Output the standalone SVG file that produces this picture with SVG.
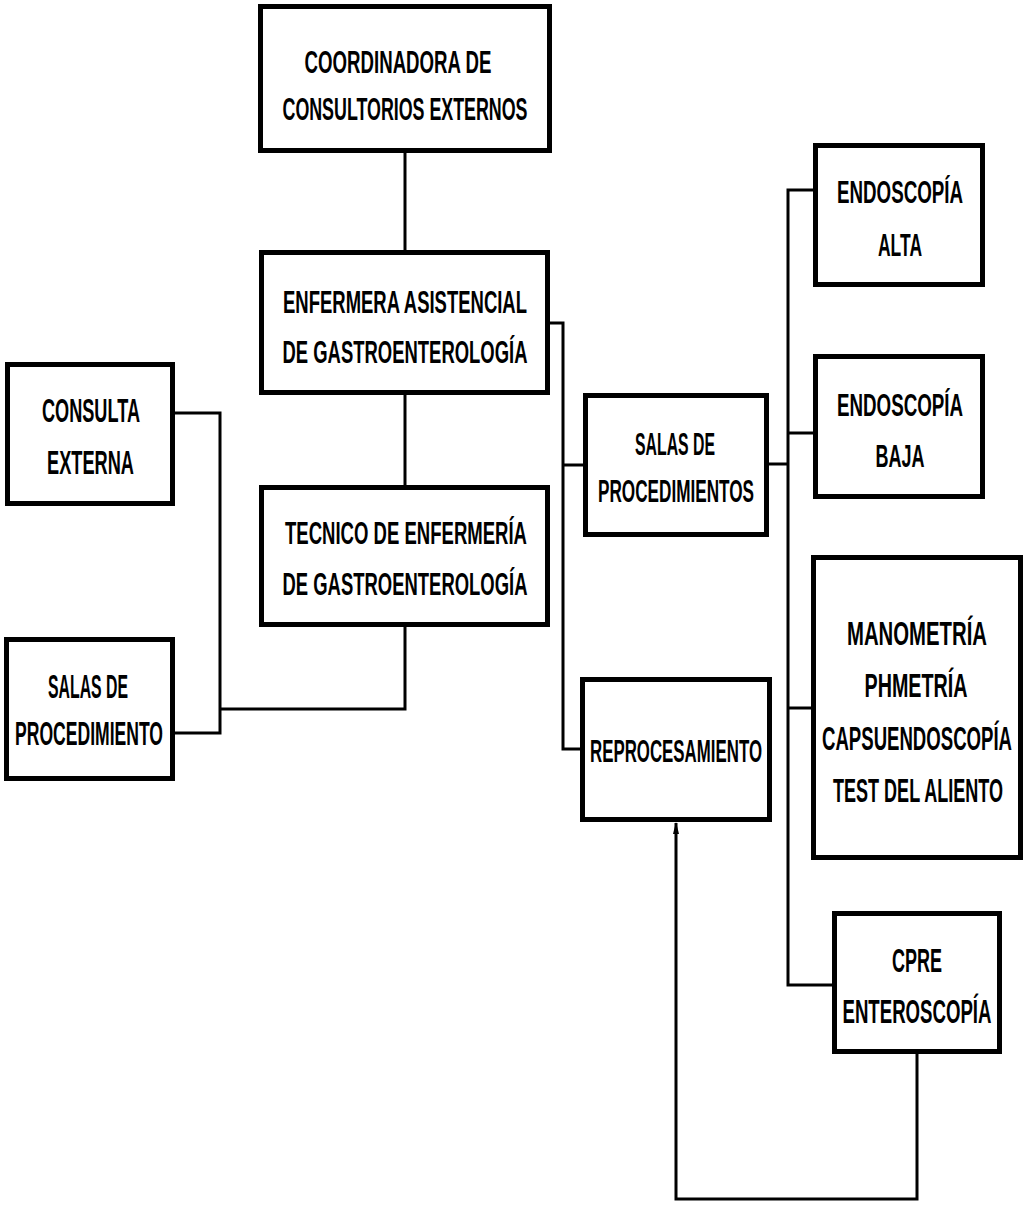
<svg xmlns="http://www.w3.org/2000/svg" width="1029" height="1208" viewBox="0 0 1029 1208">
<defs>
<style>
.box{fill:#fff;stroke:#000;stroke-width:5}
.t{font-family:"Liberation Sans",Arial,sans-serif;font-weight:bold;font-size:32px;fill:#000;text-anchor:middle}
.lg{font-size:34px}
.c{fill:none;stroke:#000;stroke-width:3}
</style>
<marker id="arr" markerUnits="userSpaceOnUse" markerWidth="12" markerHeight="8" refX="11" refY="4" orient="auto">
<path d="M0,1 L12,4 L0,7 Z" fill="#000"/>
</marker>
</defs>
<rect width="1029" height="1208" fill="#fff"/>
<g id="connectors">
<path class="c" d="M405,153 V250"/>
<path class="c" d="M405,395 V485"/>
<path class="c" d="M550,323 H563 V749 H580"/>
<path class="c" d="M563,465 H583"/>
<path class="c" d="M405,627 V709 H220"/>
<path class="c" d="M175,413 H220 V733 H175"/>
<path class="c" d="M769,464 H788"/>
<path class="c" d="M813,190 H788 V985 H832"/>
<path class="c" d="M788,433 H813"/>
<path class="c" d="M788,708 H811"/>
<path class="c" d="M917,1054 V1199 H676 V823" marker-end="url(#arr)"/>
</g>
<g id="coordinadora">
<rect class="box" x="260.5" y="6.5" width="289" height="144"/>
<text class="t" x="398" y="73" textLength="187" lengthAdjust="spacingAndGlyphs">COORDINADORA DE</text>
<text class="t" x="405" y="120" textLength="245" lengthAdjust="spacingAndGlyphs">CONSULTORIOS EXTERNOS</text>
</g>
<g id="enfermera">
<rect class="box" x="261.5" y="252.5" width="286" height="140"/>
<text class="t" x="405" y="313" textLength="244" lengthAdjust="spacingAndGlyphs">ENFERMERA ASISTENCIAL</text>
<text class="t" x="405" y="363" textLength="245" lengthAdjust="spacingAndGlyphs">DE GASTROENTEROLOGÍA</text>
</g>
<g id="tecnico">
<rect class="box" x="261.5" y="487.5" width="286" height="137"/>
<text class="t" x="406" y="544" textLength="242" lengthAdjust="spacingAndGlyphs">TECNICO DE ENFERMERÍA</text>
<text class="t" x="405" y="595" textLength="245" lengthAdjust="spacingAndGlyphs">DE GASTROENTEROLOGÍA</text>
</g>
<g id="consulta">
<rect class="box" x="7.5" y="364.5" width="165" height="139"/>
<text class="t lg" x="91" y="422" textLength="98" lengthAdjust="spacingAndGlyphs">CONSULTA</text>
<text class="t lg" x="90.5" y="474" textLength="87" lengthAdjust="spacingAndGlyphs">EXTERNA</text>
</g>
<g id="salas-procedimiento">
<rect class="box" x="6.5" y="639.5" width="166" height="139"/>
<text class="t lg" x="88" y="698" textLength="80" lengthAdjust="spacingAndGlyphs">SALAS DE</text>
<text class="t lg" x="89" y="745" textLength="148" lengthAdjust="spacingAndGlyphs">PROCEDIMIENTO</text>
</g>
<g id="salas-procedimientos">
<rect class="box" x="585.5" y="395.5" width="181" height="139"/>
<text class="t" x="675" y="455" textLength="80" lengthAdjust="spacingAndGlyphs">SALAS DE</text>
<text class="t" x="676" y="502" textLength="156" lengthAdjust="spacingAndGlyphs">PROCEDIMIENTOS</text>
</g>
<g id="reprocesamiento">
<rect class="box" x="582.5" y="679.5" width="187" height="140"/>
<text class="t" x="676" y="762" textLength="172" lengthAdjust="spacingAndGlyphs">REPROCESAMIENTO</text>
</g>
<g id="endoscopia-alta">
<rect class="box" x="815.5" y="145.5" width="167" height="139"/>
<text class="t" x="900" y="203" textLength="126" lengthAdjust="spacingAndGlyphs">ENDOSCOPÍA</text>
<text class="t" x="900" y="256" textLength="44" lengthAdjust="spacingAndGlyphs">ALTA</text>
</g>
<g id="endoscopia-baja">
<rect class="box" x="815.5" y="356.5" width="167" height="140"/>
<text class="t" x="900" y="416" textLength="126" lengthAdjust="spacingAndGlyphs">ENDOSCOPÍA</text>
<text class="t" x="900" y="467" textLength="49" lengthAdjust="spacingAndGlyphs">BAJA</text>
</g>
<g id="manometria">
<rect class="box" x="813.5" y="557.5" width="207" height="300"/>
<text class="t lg" x="917" y="645" textLength="140" lengthAdjust="spacingAndGlyphs">MANOMETRÍA</text>
<text class="t lg" x="916" y="697" textLength="103" lengthAdjust="spacingAndGlyphs">PHMETRÍA</text>
<text class="t lg" x="917" y="750" textLength="190" lengthAdjust="spacingAndGlyphs">CAPSUENDOSCOPÍA</text>
<text class="t lg" x="918" y="802" textLength="170" lengthAdjust="spacingAndGlyphs">TEST DEL ALIENTO</text>
</g>
<g id="cpre">
<rect class="box" x="834.5" y="913.5" width="165" height="138"/>
<text class="t lg" x="917" y="972" textLength="50" lengthAdjust="spacingAndGlyphs">CPRE</text>
<text class="t lg" x="917" y="1023" textLength="149" lengthAdjust="spacingAndGlyphs">ENTEROSCOPÍA</text>
</g>
</svg>
